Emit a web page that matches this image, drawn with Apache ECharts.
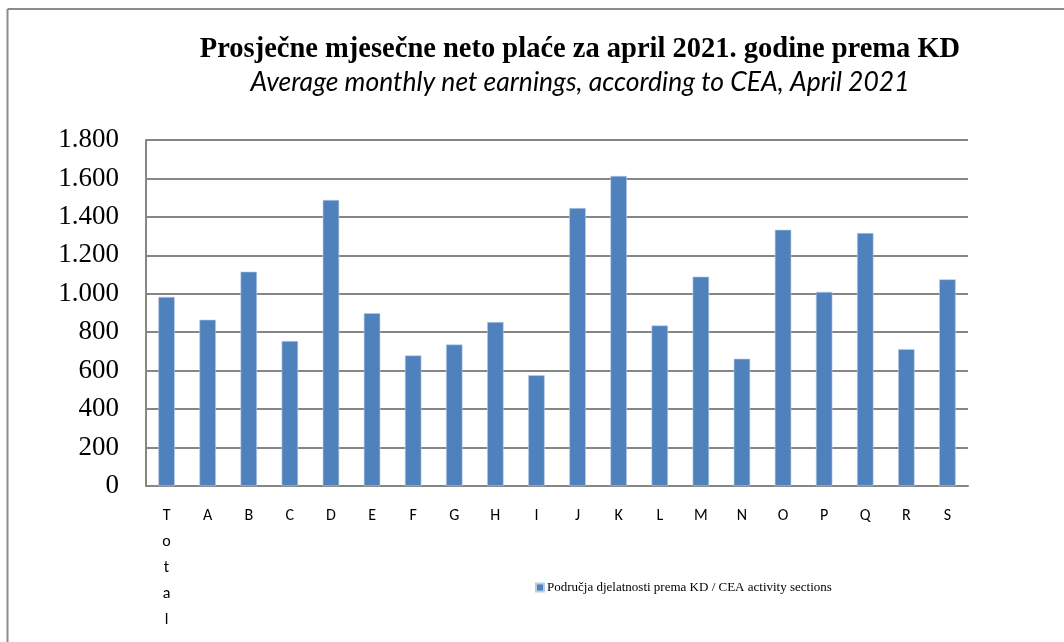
<!DOCTYPE html>
<html>
<head>
<meta charset="utf-8">
<script src="https://cdn.jsdelivr.net/npm/echarts@6/dist/echarts.min.js"></script>
<style>
html,body{margin:0;padding:0;background:#fff;}
#c{width:1064px;height:642px;}
</style>
</head>
<body>
<div id="c"></div>
<script>
const categories = ["Total","A","B","C","D","E","F","G","H","I","J","K","L","M","N","O","P","Q","R","S"];
const values = [984,865,1115,754,1488,899,679,736,853,576,1446,1613,835,1089,662,1333,1010,1316,712,1075];
const yTicks = [0,200,400,600,800,1000,1200,1400,1600,1800];
const titleText = "Prosječne mjesečne neto plaće za april 2021. godine prema KD";
const subtitleText = "Average monthly net earnings, according to CEA, April 2021";
const seriesName = "Područja djelatnosti prema KD / CEA activity sections";

function fmtThousands(v){
  return String(v).replace(/\B(?=(\d{3})+(?!\d))/g, '.');
}

const chart = echarts.init(document.getElementById('c'), null, {renderer:'canvas'});
chart.setOption({
  animation:false,
  backgroundColor:'#ffffff',
  graphic:[
    {type:'line', shape:{x1:7.5,y1:9,x2:1064,y2:9}, style:{stroke:'#8c8c8c', lineWidth:2}},
    {type:'line', shape:{x1:7.5,y1:9,x2:7.5,y2:642}, style:{stroke:'#8c8c8c', lineWidth:2}}
  ],
  title:[
    {text:titleText, left:575, top:30, textAlign:'center',
     textStyle:{fontFamily:'"Liberation Serif", "DejaVu Serif", serif', fontWeight:'bold', fontSize:28.5, color:'#000'}},
    {text:subtitleText, left:575, top:64, textAlign:'center',
     textStyle:{fontFamily:'"Liberation Sans Narrow", Lato, sans-serif', fontStyle:'italic', fontWeight:'normal', fontSize:26.5, color:'#000'}}
  ],
  legend:{
    data:[seriesName], left:530, top:576, itemWidth:8, itemHeight:8, icon:'rect', itemGap:4,
    textStyle:{fontFamily:'"Liberation Serif", serif', fontSize:13, color:'#000', padding:[0,0,0,-2]}
  },
  grid:{left:146, top:140, right:96, bottom:156, containLabel:false},
  xAxis:{
    type:'category', data:categories,
    axisLine:{show:true, lineStyle:{color:'#868686', width:2}},
    axisTick:{show:false},
    axisLabel:{
      interval:0, margin:17, color:'#000', fontSize:16, lineHeight:26,
      fontFamily:'Carlito, "Open Sans", Lato, sans-serif',
      formatter:function(v){ return v.split('').join('\n'); },
      verticalAlign:'top'
    }
  },
  yAxis:{
    type:'value', min:0, max:1800, interval:200,
    axisLine:{show:true, lineStyle:{color:'#868686', width:2}},
    axisTick:{show:false},
    splitLine:{show:true, lineStyle:{color:'#868686', width:2}},
    axisLabel:{
      margin:27, color:'#000', fontSize:27,
      fontFamily:'"Liberation Serif", "DejaVu Serif", serif',
      formatter:function(v){ return fmtThousands(v); }
    }
  },
  series:[{
    name:seriesName, type:'bar', data:values, barWidth:'40%',
    itemStyle:{color:'#4F81BD', borderColor:'#b9cde6', borderWidth:0.6}
  }]
});
</script>
</body>
</html>
